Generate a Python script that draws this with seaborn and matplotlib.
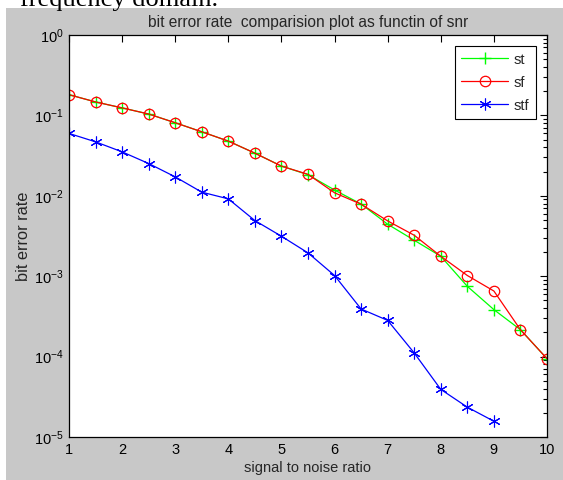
import numpy as np
import pandas as pd
import matplotlib
matplotlib.use('Agg')
import matplotlib.pyplot as plt
import seaborn as sns
from matplotlib.patches import Rectangle

# data
snr = [1, 1.5, 2, 2.5, 3, 3.5, 4, 4.5, 5, 5.5, 6, 6.5, 7, 7.5, 8, 8.5, 9, 9.5, 10]
st = [0.181, 0.147, 0.124, 0.104, 0.081, 0.0625, 0.0479, 0.0339, 0.0234, 0.0183,
      0.0118, 0.0079, 0.00443, 0.0028, 0.00177, 0.000748, 0.000384, 0.000216, 0.0000942]
sf = [0.181, 0.147, 0.124, 0.104, 0.081, 0.0625, 0.0479, 0.0339, 0.0234, 0.0185,
      0.0109, 0.00786, 0.00487, 0.00323, 0.00177, 0.00102, 0.000654, 0.000216, 0.0000942]
stf_snr = [1, 1.5, 2, 2.5, 3, 3.5, 4, 4.5, 5, 5.5, 6, 6.5, 7, 7.5, 8, 8.5, 9]
stf = [0.0597, 0.0469, 0.0352, 0.0252, 0.0172, 0.0111, 0.00916, 0.00492, 0.00314, 0.00195,
       0.00102, 0.000391, 0.000282, 0.000111, 0.0000391, 0.0000235, 0.0000157]

sns.set_style("white")
plt.rcParams['font.family'] = ['Liberation Sans', 'DejaVu Sans']
plt.rcParams['mathtext.fontset'] = 'custom'
plt.rcParams['mathtext.rm'] = 'Liberation Sans'

fig = plt.figure(figsize=(5.63, 4.80), dpi=100, facecolor='#c8c8c8')
# white strips from the surrounding page
fig.patches.append(Rectangle((0, 472 / 480), 1, 8 / 480, transform=fig.transFigure,
                             facecolor='white', edgecolor='none', zorder=0))
fig.patches.append(Rectangle((0, 0), 6 / 563, 1, transform=fig.transFigure,
                             facecolor='white', edgecolor='none', zorder=0))
fig.text(20 / 563, 474 / 480, 'frequency domain.', fontsize=19, family='Liberation Serif',
         va='baseline', ha='left', color='black')

ax = fig.add_axes([69 / 563, 43 / 480, 478 / 563, 402 / 480])
ax.set_facecolor('white')

asterisk = (6, 2, 0)
sns.lineplot(x=snr, y=st, ax=ax, color=(0, 1, 0), marker='+', markersize=9,
             markeredgecolor=(0, 1, 0), markeredgewidth=1, linewidth=0.9, label='st')
sns.lineplot(x=snr, y=sf, ax=ax, color='red', marker='o', markersize=7.5,
             markerfacecolor='none', markeredgecolor='red', markeredgewidth=0.9,
             linewidth=0.9, label='sf')
sns.lineplot(x=stf_snr, y=stf, ax=ax, color='blue', marker=asterisk, markersize=8.5,
             markeredgecolor='blue', markeredgewidth=0.8, linewidth=0.9, label='stf')

ax.set_yscale('log')
ax.set_xlim(1, 10)
ax.set_ylim(1e-5, 1)
ax.set_xticks(range(1, 11))
ax.set_xticklabels([str(i) for i in range(1, 11)])

ax.tick_params(which='both', direction='in', top=True, right=True, labelsize=10.5,
               colors='black', width=0.8)
ax.tick_params(which='major', length=5, pad=4)
ax.tick_params(which='minor', length=3)
ax.tick_params(axis='x', which='minor', top=False, bottom=False)
for s in ax.spines.values():
    s.set_color('black')
    s.set_linewidth(0.9)

ax.set_title('bit error rate  comparision plot as functin of snr', fontsize=11.2, pad=6)
ax.set_xlabel('signal to noise ratio', fontsize=10.5, labelpad=3)
ax.set_ylabel('bit error rate', fontsize=11.8, labelpad=2)

leg = ax.legend(loc='upper right', fontsize=10.5, fancybox=False, framealpha=1,
                edgecolor='black', borderaxespad=0.75, handlelength=3.2,
                handletextpad=0.4, labelspacing=0.62, borderpad=0.45)
leg.get_frame().set_linewidth(0.8)

fig.savefig('out.png', dpi=100, facecolor=fig.get_facecolor())
